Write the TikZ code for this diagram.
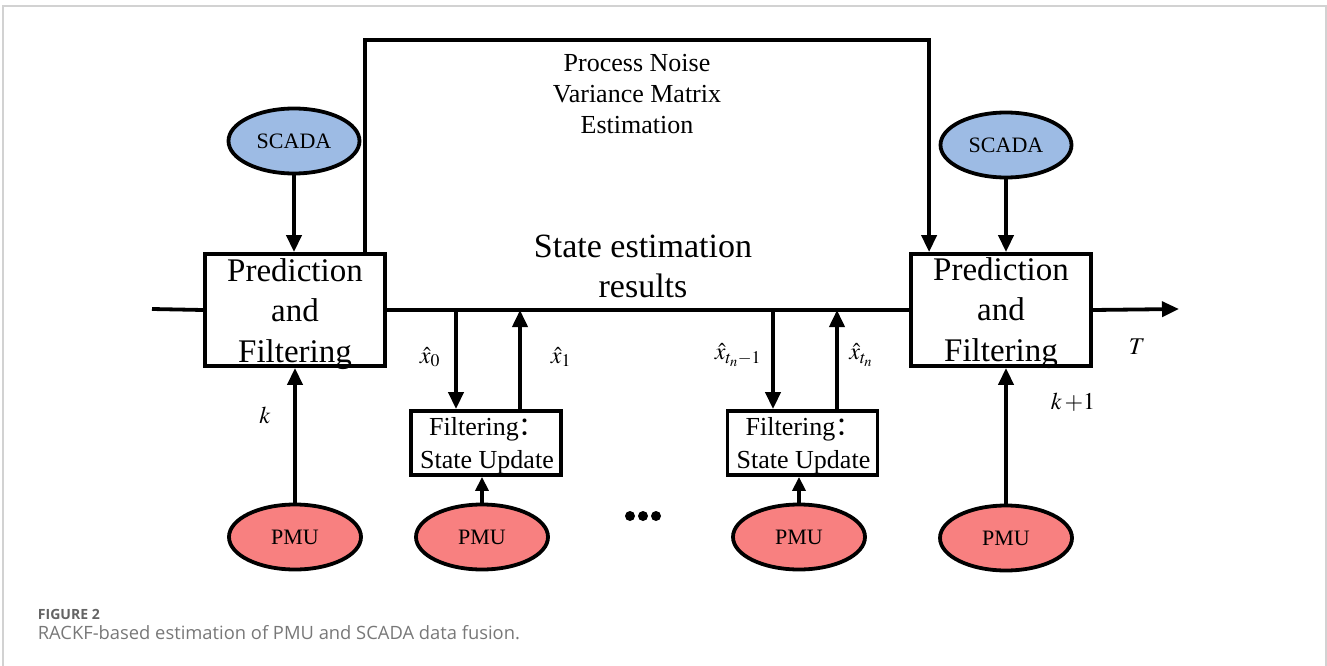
\documentclass[tikz,border=0pt]{standalone}
\usepackage{mathptmx}
\usepackage{fontspec}
\setmainfont{Liberation Serif}
\newfontfamily\capfont{Open Sans}
\newfontfamily\cjk{Noto Sans CJK SC}
\usetikzlibrary{shapes.geometric,arrows.meta}
\definecolor{scadablue}{RGB}{157,187,228}
\definecolor{pmured}{RGB}{248,128,128}
\definecolor{framegray}{RGB}{210,210,210}
\definecolor{capgray}{RGB}{100,100,100}
\definecolor{captext}{RGB}{120,120,120}
\newlength\mycapw
\newlength\myfigw
\tikzset{
  pfbox/.style={draw, rectangle, minimum width=180pt, minimum height=112pt, inner sep=0pt},
  pftext/.style={inner sep=0pt, align=center, font=\fontsize{33}{40.5}\selectfont},
  fbox/.style={draw, rectangle, minimum width=150pt, minimum height=64pt, inner sep=0pt},
  fbtext/.style={inner sep=0pt, align=center, font=\fontsize{26}{33}\selectfont},
  scada/.style={ellipse, draw, fill=scadablue, minimum width=131pt, minimum height=65pt, inner sep=0pt, font=\fontsize{22}{26}\selectfont},
  pmu/.style={ellipse, draw, fill=pmured, minimum width=132pt, minimum height=65pt, inner sep=0pt, font=\fontsize{22}{26}\selectfont},
  lbl/.style={inner sep=0pt, font=\fontsize{24}{28}\selectfont},
  bigarrow/.style={-{Triangle[length=17pt,width=15pt]}},
  smallarrow/.style={-{Triangle[length=14pt,width=13pt]}},
}
\begin{document}
\settowidth\mycapw{\capfont\fontsize{10}{12}\selectfont RACKF-based estimation of PMU and SCADA data fusion.}%
\settowidth\myfigw{\capfont\bfseries\fontsize{10}{12}\selectfont FIGURE 2}%
\pgfmathsetmacro\capsize{10*482/\mycapw}%
\pgfmathsetmacro\figsize{10*62/\myfigw}%
\begin{tikzpicture}[x=1pt,y=-1pt,line width=3.8pt]
\useasboundingbox (0,0) rectangle (1327,666);
\draw[line width=1.5pt, framegray] (3,666) -- (3,6) -- (1326,6) -- (1326,666);

% main blocks
\node[pfbox] (pfL) at (295,310) {};
\node[pftext] (pfLt) at (295,314) {Prediction\\and\\Filtering};
\node[pfbox] (pfR) at (1001,310) {};
\node[pftext] (pfRt) at (1001,313) {Prediction\\and\\Filtering};
\node[fbox] (fb1) at (486,443) {};
\node[fbtext] (fb1t) at (487,446) {Filtering{\cjk ：}\\State Update};
\node[fbox] (fb2) at (802.5,443) {};
\node[fbtext] (fb2t) at (803.5,446) {Filtering{\cjk ：}\\State Update};

\node[scada] (scL) at (294,141) {SCADA};
\node[scada] (scR) at (1006,145) {SCADA};
\node[pmu] (pmu1) at (295,537) {PMU};
\node[pmu] (pmu2) at (482,537) {PMU};
\node[pmu] (pmu3) at (799,537) {PMU};
\node[pmu] (pmu4) at (1006,538) {PMU};

% texts
\node[align=center, inner sep=0pt, font=\fontsize{26}{31}\selectfont] (pn) at (637,94) {Process Noise\\Variance Matrix\\Estimation};
\node[align=center, inner sep=0pt, font=\fontsize{34}{40}\selectfont] (se) at (643,266) {State estimation\\results};

% main line
\coordinate (start) at (152,309);
\coordinate (finish) at (1179,309);
\draw (start) -- (pfL.west);
\draw (pfL.east) -- (pfR.west);
\draw[bigarrow] (pfR.east) -- (finish);

% feedback
\draw[bigarrow] ([xshift=-22pt]pfL.north east) -- ++(0,-212) -| ([xshift=20pt]pfR.north west);

% scada arrows
\draw[bigarrow] (scL.south) -- (scL.south |- pfL.north);
\draw[bigarrow] (scR.south) -- (scR.south |- pfR.north);
% pmu arrows
\draw[bigarrow] (pmu1.north) -- (pmu1.north |- pfL.south);
\draw[bigarrow] (pmu4.north) -- (pmu4.north |- pfR.south);
\draw[smallarrow] (pmu2.north) -- (pmu2.north |- fb1.south);
\draw[smallarrow] (pmu3.north) -- (pmu3.north |- fb2.south);

% filtering loops
\draw[bigarrow] ([xshift=-30pt]fb1.north |- pfL.east) -- ([xshift=-30pt]fb1.north);
\draw[bigarrow] ([xshift=34pt]fb1.north) -- ([xshift=34pt]fb1.north |- pfL.east);
\draw[bigarrow] ([xshift=-29.5pt]fb2.north |- pfL.east) -- ([xshift=-29.5pt]fb2.north);
\draw[bigarrow] ([xshift=34.5pt]fb2.north) -- ([xshift=34.5pt]fb2.north |- pfL.east);

% labels
\node[lbl] (lk) at (265,415) {$k$};
\node[lbl] (lk1) at (1073,402) {$k\,{+}1$};
\node[lbl] (lT) at (1137,347) {$T$};
\node[lbl] (lx0) at (430,357) {$\hat{x}_0$};
\node[lbl] (lx1) at (561,357) {$\hat{x}_1$};
\node[lbl] (lxn1) at (738,355) {$\hat{x}_{t_n-1}$};
\node[lbl] (lxn) at (861,355) {$\hat{x}_{t_n}$};

% dots
\coordinate (dots) at (643,516);
\fill ([xshift=-13pt]dots) circle (5pt);
\fill (dots) circle (5pt);
\fill ([xshift=13pt]dots) circle (5pt);

% caption
\node[anchor=base west, inner sep=0pt, text=capgray, font=\capfont\bfseries\fontsize{\figsize}{17}\selectfont] (fig) at (36,619) {FIGURE 2};
\node[anchor=base west, inner sep=0pt, text=captext, font=\capfont\fontsize{\capsize}{21}\selectfont] (cap) at (36,639) {RACKF-based estimation of PMU and SCADA data fusion.};
\end{tikzpicture}
\end{document}
